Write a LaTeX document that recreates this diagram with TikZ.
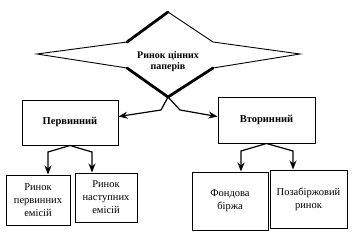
\documentclass[tikz,border=0pt]{standalone}
\usepackage{fontspec}
\setmainfont{Liberation Serif}
\usetikzlibrary{arrows.meta}
\tikzset{
  box/.style={draw, line width=1pt, align=center, inner sep=2pt,
    font=\fontsize{10.5}{13}\selectfont},
  bigbox/.style={box, font=\fontsize{10.5}{12}\selectfont\bfseries},
  arr/.style={line width=1.2pt, -{Stealth[length=9pt,width=7pt]}}
}
\begin{document}
\begin{tikzpicture}[x=1pt,y=-1pt]
  \useasboundingbox (0,0) rectangle (353,241);
  % zirka
  \draw[line width=0.9pt, line join=miter] (37,54) -- (127,42) -- (168,12) -- (213,42)
    -- (300,54) -- (213,68) -- (168,97) -- (127,68) -- cycle;
  \draw[line width=2.8pt, line cap=round] (127,42) -- (168,12);
  \draw[line width=2.8pt, line cap=round, line join=miter] (127,68) -- (168,97) -- (213,68);
  \node[font=\fontsize{10}{11}\selectfont\bfseries, align=center] (title) at (168,62) {Ринок цінних\\паперів};
  \coordinate (bot) at (168,97);
  % druhyi riven
  \node[bigbox, minimum width=96pt, minimum height=45pt] (prim) at (70,122.5) {Первинний};
  \node[bigbox, minimum width=97pt, minimum height=46pt] (sec) at (266.5,120) {Вторинний};
  \draw[arr] (bot) -- (161,110) -- (prim.7);
  \draw[arr] (bot) -- (180,110) -- (sec.176);
  % tretii riven
  \node[box, minimum width=64pt, minimum height=50pt] (p1) at (38,200) {Ринок\\первинних\\емісій};
  \node[box, minimum width=62pt, minimum height=49pt] (p2) at (106,197.5) {Ринок\\наступних\\емісій};
  \node[box, minimum width=76pt, minimum height=58pt] (s1) at (230,201) {Фондова\\біржа};
  \node[box, minimum width=77pt, minimum height=58pt] (s2) at (308.5,199) {Позабіржовий\\ринок};
  \coordinate (pl) at (48,152);
  \coordinate (pr) at (92,152);
  \coordinate (sl) at (241,151);
  \coordinate (sr) at (293,151);
  \draw[arr] (prim.south) -- (pl) -- (pl |- p1.north);
  \draw[arr] (prim.south) -- (pr) -- (pr |- p2.north);
  \draw[arr] (sec.south) -- (sl) -- (sl |- s1.north);
  \draw[arr] (sec.south) -- (sr) -- (sr |- s2.north);
\end{tikzpicture}
\end{document}
